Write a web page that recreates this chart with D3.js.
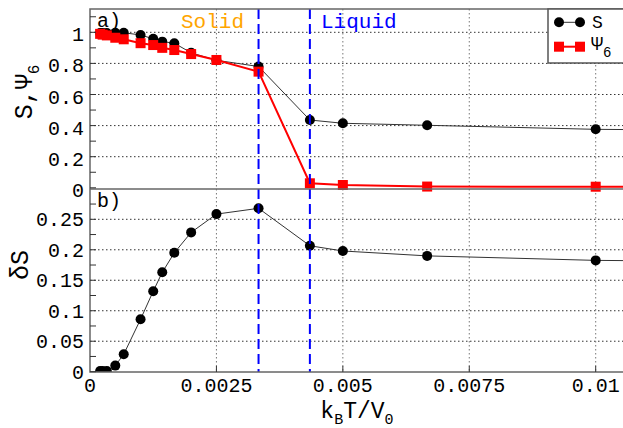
<!DOCTYPE html>
<html>
<head>
<meta charset="utf-8">
<script src="https://cdn.jsdelivr.net/npm/d3@7"></script>
<style>
body { margin: 0; background: #fff; }
text { font-family: "Liberation Mono", "Courier New", monospace; }
</style>
</head>
<body>
<svg id="chart" width="623" height="428"></svg>
<script>
// temperature k_B T / V_0 (last point lies past the right edge, only its line shows)
var temps = [0.0002, 0.00025, 0.000333, 0.0005, 0.000667, 0.001, 0.00125, 0.001429,
             0.001667, 0.002, 0.0025, 0.003333, 0.004348, 0.005, 0.006667, 0.01, 0.0125];
var sVals = [0.995, 0.995, 0.995, 0.997, 0.997, 0.983, 0.958, 0.94,
             0.93, 0.868, 0.82, 0.78, 0.436, 0.415, 0.402, 0.376, 0.37];
var psiVals = [0.99, 0.985, 0.98, 0.965, 0.955, 0.93, 0.918, 0.9,
               0.886, 0.86, 0.822, 0.747, 0.029, 0.018, 0.008, 0.007, 0.006];
var dsVals = [0.001, 0.001, 0.001, 0.01, 0.0285, 0.086, 0.132, 0.163,
              0.195, 0.2285, 0.2585, 0.268, 0.2066, 0.198, 0.19, 0.1826, 0.181];
var transitions = [0.003333, 0.004348];
var xTicks = [0, 0.0025, 0.005, 0.0075, 0.01];
var xTickLabels = ["0", "0.0025", "0.005", "0.0075", "0.01"];
var topTicks = [0, 0.2, 0.4, 0.6, 0.8, 1];
var topTickLabels = ["0", "0.2", "0.4", "0.6", "0.8", "1"];
var botTicks = [0, 0.05, 0.1, 0.15, 0.2, 0.25];
var botTickLabels = ["0", "0.05", "0.1", "0.15", "0.2", "0.25"];

draw();

function draw() {
    var svg = d3.select("#chart");
    var pl = 90, pr = 623, pt = 9, pm = 189, pb = 372;

    var x = d3.scaleLinear().domain([0, 0.01]).range([pl, 595.7]);
    var yTop = d3.scaleLinear().domain([0, 1]).range([187.8, 32.3]);
    var yBot = d3.scaleLinear().domain([0, 0.25]).range([371.7, 219.3]);

    svg.append("clipPath").attr("id", "clip")
        .append("rect").attr("x", pl).attr("y", pt)
        .attr("width", pr - pl).attr("height", pb - pt);

    var grid = svg.append("g");
    // horizontal grid
    grid.selectAll(".ht").data(topTicks.slice(1)).enter().append("line")
        .attr("x1", pl).attr("x2", pr)
        .attr("y1", function(d) { return yTop(d); }).attr("y2", function(d) { return yTop(d); })
        .attr("stroke", "#333").attr("stroke-width", 1).attr("stroke-dasharray", "1.5,2.5");
    grid.selectAll(".hb").data(botTicks.slice(1)).enter().append("line")
        .attr("x1", pl).attr("x2", pr)
        .attr("y1", function(d) { return yBot(d); }).attr("y2", function(d) { return yBot(d); })
        .attr("stroke", "#333").attr("stroke-width", 1).attr("stroke-dasharray", "1.5,2.5");
    // vertical grid
    grid.selectAll(".v").data(xTicks.slice(1)).enter().append("line")
        .attr("x1", function(d) { return x(d); }).attr("x2", function(d) { return x(d); })
        .attr("y1", pt).attr("y2", pb)
        .attr("stroke", "#777").attr("stroke-width", 1).attr("stroke-dasharray", "1.5,2.5");

    var plot = svg.append("g").attr("clip-path", "url(#clip)");

    var lineTop = d3.line().x(function(d, i) { return x(temps[i]); })
                    .y(function(d) { return yTop(d); });

    // S
    plot.append("path").attr("d", lineTop(sVals))
        .attr("fill", "none").attr("stroke", "#333").attr("stroke-width", 1);
    plot.selectAll(".sdot").data(sVals).enter().append("circle")
        .attr("cx", function(d, i) { return x(temps[i]); })
        .attr("cy", function(d) { return yTop(d); })
        .attr("r", 5).attr("fill", "#000");

    // Psi6
    plot.append("path").attr("d", lineTop(psiVals))
        .attr("fill", "none").attr("stroke", "#f00").attr("stroke-width", 2);
    plot.selectAll(".psq").data(psiVals).enter().append("rect")
        .attr("x", function(d, i) { return x(temps[i]) - 5; })
        .attr("y", function(d) { return yTop(d) - 5; })
        .attr("width", 10).attr("height", 10).attr("fill", "#f00");

    // delta S
    var lineBot = d3.line().x(function(d, i) { return x(temps[i]); })
                    .y(function(d) { return yBot(d); });
    plot.append("path").attr("d", lineBot(dsVals))
        .attr("fill", "none").attr("stroke", "#333").attr("stroke-width", 1);
    plot.selectAll(".ddot").data(dsVals).enter().append("circle")
        .attr("cx", function(d, i) { return x(temps[i]); })
        .attr("cy", function(d) { return yBot(d); })
        .attr("r", 5).attr("fill", "#000");

    // transition lines
    svg.selectAll(".tr").data(transitions).enter().append("line")
        .attr("x1", function(d) { return x(d); }).attr("x2", function(d) { return x(d); })
        .attr("y1", pt).attr("y2", pb)
        .attr("stroke", "#00f").attr("stroke-width", 2).attr("stroke-dasharray", "10,5");

    // frame
    svg.append("rect").attr("x", pl).attr("y", pt)
        .attr("width", pr - pl + 5).attr("height", pb - pt)
        .attr("fill", "none").attr("stroke", "#666").attr("stroke-width", 1.5);
    svg.append("line").attr("x1", pl).attr("x2", pr).attr("y1", pm).attr("y2", pm)
        .attr("stroke", "#666").attr("stroke-width", 1.5);

    // inward ticks
    var topMinor = d3.range(0, 1.15, 0.1);
    var botMinor = d3.range(0, 0.3, 0.025);
    svg.selectAll(".tt").data(topMinor).enter().append("line")
        .attr("x1", pl).attr("x2", pl + 6)
        .attr("y1", function(d) { return yTop(d); }).attr("y2", function(d) { return yTop(d); })
        .attr("stroke", "#333").attr("stroke-width", 1);
    svg.selectAll(".bt").data(botMinor).enter().append("line")
        .attr("x1", pl).attr("x2", pl + 6)
        .attr("y1", function(d) { return yBot(d); }).attr("y2", function(d) { return yBot(d); })
        .attr("stroke", "#333").attr("stroke-width", 1);
    svg.selectAll(".xt").data(xTicks.slice(1)).enter().append("line")
        .attr("x1", function(d) { return x(d); }).attr("x2", function(d) { return x(d); })
        .attr("y1", pb).attr("y2", pb - 6)
        .attr("stroke", "#333").attr("stroke-width", 1);

    // tick labels
    svg.selectAll(".tl").data(topTicks).enter().append("text")
        .attr("x", 84).attr("y", function(d) { return yTop(d) + 9; })
        .attr("text-anchor", "end").attr("font-size", 20)
        .text(function(d, i) { return topTickLabels[i]; });
    svg.selectAll(".bl").data(botTicks).enter().append("text")
        .attr("x", 84).attr("y", function(d) { return yBot(d) + 7; })
        .attr("text-anchor", "end").attr("font-size", 20)
        .text(function(d, i) { return botTickLabels[i]; });
    svg.selectAll(".xl").data(xTicks).enter().append("text")
        .attr("x", function(d) { return x(d); }).attr("y", 392)
        .attr("text-anchor", "middle").attr("font-size", 20)
        .text(function(d, i) { return xTickLabels[i]; });

    // axis titles
    var xt = svg.append("text").attr("x", 357).attr("y", 418)
        .attr("text-anchor", "middle").attr("font-size", 23);
    xt.append("tspan").text("k");
    xt.append("tspan").attr("font-size", 15).attr("dy", 6).text("B");
    xt.append("tspan").attr("dy", -6).text("T/V");
    xt.append("tspan").attr("font-size", 15).attr("dy", 6).text("0");

    var yt = svg.append("text").attr("transform", "translate(32,92) rotate(-90)")
        .attr("text-anchor", "middle").attr("font-size", 25);
    yt.append("tspan").text("S,Ψ");
    yt.append("tspan").attr("font-size", 16).attr("dy", 7).text("6");

    svg.append("text").attr("transform", "translate(28,265) rotate(-90)")
        .attr("text-anchor", "middle").attr("font-size", 25).text("δS");

    // panel labels
    svg.append("text").attr("x", 97).attr("y", 27).attr("font-size", 20).text("a)");
    svg.append("text").attr("x", 97).attr("y", 207).attr("font-size", 20).text("b)");
    svg.append("text").attr("x", 181).attr("y", 28).attr("font-size", 21)
        .attr("fill", "#ffa500").text("Solid");
    svg.append("text").attr("x", 321).attr("y", 28).attr("font-size", 21)
        .attr("fill", "#00f").text("Liquid");

    // legend
    var lg = svg.append("g");
    lg.append("rect").attr("x", 548).attr("y", pt).attr("width", 80).attr("height", 54)
        .attr("fill", "#fff").attr("stroke", "#555").attr("stroke-width", 1.5);
    lg.append("line").attr("x1", 559).attr("x2", 580).attr("y1", 22.3).attr("y2", 22.3)
        .attr("stroke", "#333").attr("stroke-width", 1);
    lg.selectAll(".lc").data([559, 580]).enter().append("circle")
        .attr("cx", function(d) { return d; }).attr("cy", 22.3).attr("r", 5).attr("fill", "#000");
    lg.append("line").attr("x1", 559).attr("x2", 580).attr("y1", 46.7).attr("y2", 46.7)
        .attr("stroke", "#f00").attr("stroke-width", 2);
    lg.selectAll(".ls").data([559, 580]).enter().append("rect")
        .attr("x", function(d) { return d - 5; }).attr("y", 41.7)
        .attr("width", 10).attr("height", 10).attr("fill", "#f00");
    lg.append("text").attr("x", 592).attr("y", 28).attr("font-size", 18)
        .attr("font-family", "Liberation Serif, serif").text("S");
    var lp = lg.append("text").attr("x", 591).attr("y", 50).attr("font-size", 20)
        .attr("font-family", "Liberation Serif, serif");
    lp.append("tspan").text("Ψ");
    lp.append("tspan").attr("font-size", 14).attr("dy", 7).text("6");
}
</script>
</body>
</html>
